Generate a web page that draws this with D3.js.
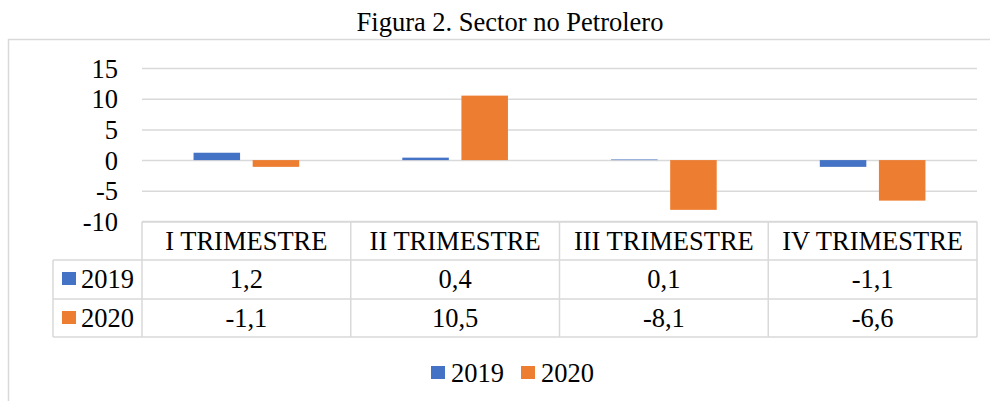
<!DOCTYPE html>
<html>
<head>
<meta charset="utf-8">
<script src="https://cdn.jsdelivr.net/npm/d3@7"></script>
<style>
  html, body { margin: 0; padding: 0; background: #fff; }
  svg { display: block; font-family: 'Liberation Serif', 'Times New Roman', serif; }
</style>
</head>
<body>
<div id="chart"></div>
<script>
const categories = ['I TRIMESTRE', 'II TRIMESTRE', 'III TRIMESTRE', 'IV TRIMESTRE']
const seriesNames = ['2019', '2020']
const values2019 = [1.2, 0.4, 0.1, -1.1]
const values2020 = [-1.1, 10.5, -8.1, -6.6]
const yTicks = [15, 10, 5, 0, -5, -10]
const seriesColors = ['#4472C4', '#ED7D31']
const titleText = 'Figura 2. Sector no Petrolero'

const width = 990
const height = 401
const fontSize = 26.5
const fontFamily = "'Liberation Serif', 'Times New Roman', serif"
const gridColor = '#D9D9D9'

// formato con coma decimal y guion normal
const locale = d3.formatLocale({ decimal: ',', thousands: '.', grouping: [3], currency: ['', ''], minus: '-' })
const fmt = locale.format('.1f')
const fmtTick = locale.format('d')

const svg = d3.select('#chart')
  .append('svg')
  .attr('width', width)
  .attr('height', height)

// marco del gráfico (se sale por la derecha y por abajo)
svg.append('rect')
  .attr('x', 8.5)
  .attr('y', 39.5)
  .attr('width', 1100)
  .attr('height', 500)
  .attr('fill', 'none')
  .attr('stroke', gridColor)
  .attr('stroke-width', 1.5)

svg.append('text')
  .attr('x', 510)
  .attr('y', 31)
  .attr('text-anchor', 'middle')
  .attr('font-size', fontSize)
  .attr('fill', '#000')
  .text(titleText)

const x0 = d3.scaleBand() // trimestres
  .domain(categories)
  .range([142, 977])

const x1 = d3.scaleBand() // años dentro de cada trimestre
  .domain(seriesNames)
  .range([0, x0.bandwidth()])
  .paddingInner(0.213)
  .paddingOuter(0.872)

const y = d3.scaleLinear()
  .domain([-10, 15])
  .range([221.5, 68])

// líneas de la cuadrícula + etiquetas del eje
const yAxis = svg.append('g')
  .attr('transform', 'translate(142,0)')
  .call(d3.axisLeft(y).tickValues(yTicks).tickSize(-(977 - 142)).tickPadding(24).tickFormat(fmtTick))
yAxis.attr('font-family', fontFamily)
yAxis.select('.domain').remove()
yAxis.selectAll('.tick line')
  .attr('stroke', gridColor)
  .attr('stroke-width', 1.5)
yAxis.selectAll('.tick text')
  .attr('font-size', fontSize)
  .attr('fill', '#000')
  .attr('dy', '0.34em')

const seriesValues = [values2019, values2020]
const barData = []
categories.forEach((c, i) => {
  seriesNames.forEach((s, j) => {
    barData.push({ cat: c, serie: s, value: seriesValues[j][i], color: seriesColors[j] })
  })
})

svg.append('g')
  .selectAll('rect')
  .data(barData)
  .enter()
  .append('rect')
  .attr('x', d => x0(d.cat) + x1(d.serie))
  .attr('y', d => y(Math.max(0, d.value)))
  .attr('width', x1.bandwidth())
  .attr('height', d => Math.abs(y(d.value) - y(0)))
  .attr('fill', d => d.color)

// tabla de datos
const rowTop = 221.5
const headerBottom = 260
const rowBottoms = [299, 337]
const legendLeft = 53
const table = svg.append('g')
  .attr('stroke', gridColor)
  .attr('stroke-width', 1.5)
  .attr('fill', 'none')

// bordes horizontales
table.append('line').attr('x1', 142).attr('x2', 977).attr('y1', rowTop).attr('y2', rowTop)
table.append('line').attr('x1', legendLeft).attr('x2', 977).attr('y1', headerBottom).attr('y2', headerBottom)
rowBottoms.forEach(yb => {
  table.append('line').attr('x1', legendLeft).attr('x2', 977).attr('y1', yb).attr('y2', yb)
})
// bordes verticales
const colEdges = categories.map(c => x0(c)).concat([977])
colEdges.forEach(xe => {
  table.append('line').attr('x1', xe).attr('x2', xe).attr('y1', rowTop).attr('y2', rowBottoms[1])
})
table.append('line').attr('x1', legendLeft).attr('x2', legendLeft).attr('y1', headerBottom).attr('y2', rowBottoms[1])

svg.append('g')
  .selectAll('text')
  .data(categories)
  .enter()
  .append('text')
  .attr('x', d => x0(d) + x0.bandwidth() / 2)
  .attr('y', 249.5)
  .attr('text-anchor', 'middle')
  .attr('font-size', fontSize)
  .text(d => d)

const rowBaselines = [288, 327]
seriesNames.forEach((s, j) => {
  const row = svg.append('g')
  row.append('rect')
    .attr('x', 62)
    .attr('y', rowBaselines[j] - 16)
    .attr('width', 14)
    .attr('height', 13)
    .attr('fill', seriesColors[j])
  row.append('text')
    .attr('x', 81)
    .attr('y', rowBaselines[j])
    .attr('font-size', fontSize)
    .text(s)
  row.selectAll('text.val')
    .data(seriesValues[j])
    .enter()
    .append('text')
    .attr('class', 'val')
    .attr('x', (d, i) => x0(categories[i]) + x0.bandwidth() / 2)
    .attr('y', rowBaselines[j])
    .attr('text-anchor', 'middle')
    .attr('font-size', fontSize)
    .text(d => fmt(d))
})

// leyenda inferior
const legendItems = [{ name: seriesNames[0], x: 431 }, { name: seriesNames[1], x: 521 }]
const legend = svg.append('g')
legendItems.forEach((it, j) => {
  legend.append('rect')
    .attr('x', it.x)
    .attr('y', 366)
    .attr('width', 14)
    .attr('height', 13)
    .attr('fill', seriesColors[j])
  legend.append('text')
    .attr('x', it.x + 20)
    .attr('y', 382)
    .attr('font-size', fontSize)
    .text(it.name)
})
</script>
</body>
</html>
